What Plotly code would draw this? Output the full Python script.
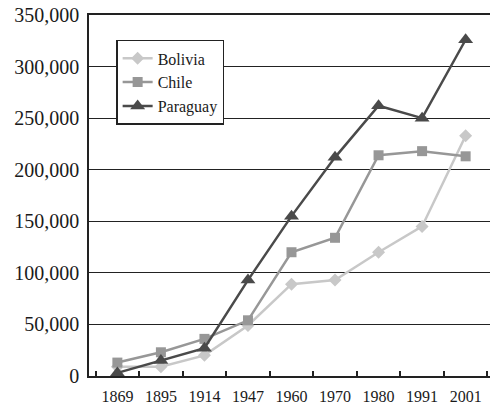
import plotly.graph_objects as go

years = ["1869", "1895", "1914", "1947", "1960", "1970", "1980", "1991", "2001"]
bolivia = [9000, 9000, 20000, 49000, 89000, 93000, 120000, 145000, 233000]
chile = [13000, 23000, 36000, 54000, 120000, 134000, 214000, 218000, 213000]
paraguay = [3000, 15000, 27000, 93000, 155000, 212000, 262000, 250000, 326000]
y_ticks = [0, 50000, 100000, 150000, 200000, 250000, 300000, 350000]

FONT = "Liberation Serif"

fig = go.Figure()
fig.add_trace(go.Scatter(x=years, y=bolivia, name="Bolivia", mode="lines+markers",
                         line=dict(color="#c8c8c8", width=2.5),
                         marker=dict(symbol="diamond", size=10, color="#c8c8c8")))
fig.add_trace(go.Scatter(x=years, y=chile, name="Chile", mode="lines+markers",
                         line=dict(color="#979797", width=2.5),
                         marker=dict(symbol="square", size=10, color="#979797")))
fig.add_trace(go.Scatter(x=years, y=paraguay, name="Paraguay", mode="lines+markers",
                         line=dict(color="#4a4a4a", width=2.5),
                         marker=dict(symbol="triangle-up", size=13, color="#4a4a4a")))

fig.update_layout(
    width=490, height=396,
    margin=dict(l=81, r=4, t=7, b=28, autoexpand=False),
    paper_bgcolor="white", plot_bgcolor="white",
    font=dict(family=FONT, color="#1a1a1a"),
    showlegend=True,
    legend=dict(x=0.067, y=0.931, xanchor="left", yanchor="top",
                bgcolor="white", bordercolor="#222222", borderwidth=1.5,
                font=dict(family=FONT, size=16, color="#1a1a1a"),
                tracegroupgap=0, itemwidth=30),
    xaxis=dict(type="category", tickson="boundaries", ticks="inside", ticklen=5,
               tickcolor="#222222", tickwidth=1.5, tickangle=0, automargin=False,
               ticklabelstandoff=5,
               showline=True, linecolor="#222222", linewidth=1.5, mirror=True,
               showgrid=False, tickfont=dict(family=FONT, size=16, color="#1a1a1a")),
    yaxis=dict(range=[0, 350000], tickvals=y_ticks, automargin=False,
               ticktext=[f"{v:,}" for v in y_ticks], ticks="",
               ticklabelstandoff=4, ticklabeloverflow="allow",
               showline=True, linecolor="#222222", linewidth=1.5, mirror=True,
               showgrid=True, gridcolor="#222222", gridwidth=1.3, zeroline=False,
               tickfont=dict(family=FONT, size=20, color="#1a1a1a")),
)

fig.write_html("out.html")
